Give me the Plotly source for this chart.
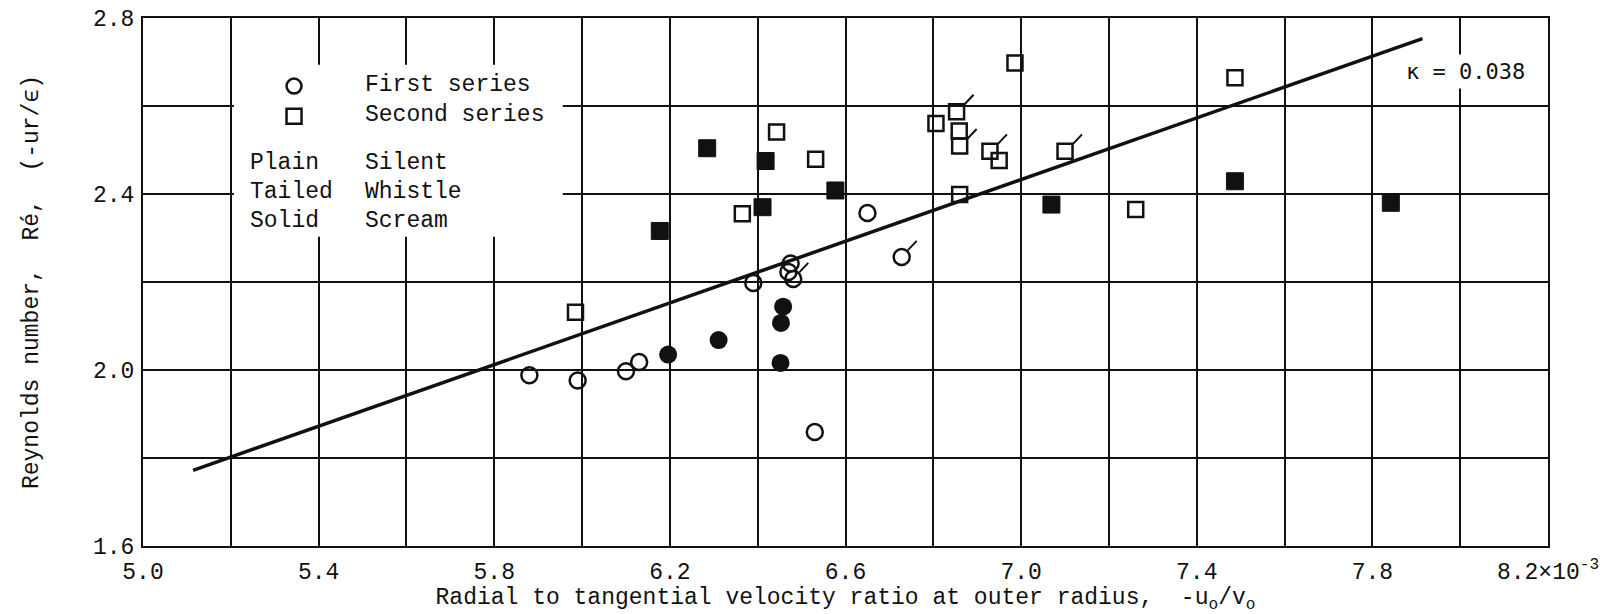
import plotly.graph_objects as go

# Radial-to-tangential velocity ratio (x 10^-3) and Reynolds number Re' (-ur/eps)
# First series (circles)
first_plain_x = [5.88, 5.99, 6.10, 6.13, 6.39, 6.475, 6.47, 6.65, 6.53]
first_plain_y = [1.988, 1.976, 1.997, 2.018, 2.198, 2.242, 2.223, 2.357, 1.859]
first_tailed_x = [6.481, 6.728]
first_tailed_y = [2.207, 2.257]
first_solid_x = [6.196, 6.311, 6.458, 6.453, 6.452]
first_solid_y = [2.035, 2.068, 2.144, 2.107, 2.016]

# Second series (squares)
second_plain_x = [5.985, 6.365, 6.443, 6.532, 6.806, 6.859, 6.950, 6.860, 6.986, 7.487, 7.261]
second_plain_y = [2.131, 2.355, 2.541, 2.479, 2.560, 2.543, 2.476, 2.399, 2.698, 2.664, 2.365]
second_tailed_x = [6.853, 6.860, 6.929, 7.100]
second_tailed_y = [2.587, 2.509, 2.497, 2.497]
second_solid_x = [6.177, 6.285, 6.418, 6.411, 6.577, 7.069, 7.487, 7.842]
second_solid_y = [2.316, 2.504, 2.475, 2.370, 2.408, 2.376, 2.429, 2.380]

# Faired line, kappa = 0.038
fit_x = [5.114, 7.914]
fit_y = [1.772, 2.753]

x_tickvals = [5.0, 5.4, 5.8, 6.2, 6.6, 7.0, 7.4, 7.8, 8.2]
x_ticktext = ["5.0", "5.4", "5.8", "6.2", "6.6", "7.0", "7.4", "7.8", "8.2×10<sup>-3</sup>"]
y_tickvals = [1.6, 2.0, 2.4, 2.8]
y_ticktext = ["1.6", "2.0", "2.4", "2.8"]

X_RANGE = [5.0, 8.2]
Y_RANGE = [1.6, 2.8]

INK = "#111111"
MONO = "Liberation Mono, Courier New, monospace"

W, H = 1623, 614
M_L, M_R, M_T, M_B = 143, 75, 18, 68
# data units per screen pixel, used to size the whistle tails
X_PER_PX = (X_RANGE[1] - X_RANGE[0]) / (W - M_L - M_R)
Y_PER_PX = (Y_RANGE[1] - Y_RANGE[0]) / (H - M_T - M_B)


def tail_path(xs, ys, start_px, end_px):
    """Short up-right strokes leaving each marker edge."""
    tx, ty = [], []
    for x, y in zip(xs, ys):
        tx += [x + start_px[0] * X_PER_PX, x + end_px[0] * X_PER_PX, None]
        ty += [y + start_px[1] * Y_PER_PX, y + end_px[1] * Y_PER_PX, None]
    return tx, ty


fig = go.Figure()

fig.add_trace(go.Scatter(x=fit_x, y=fit_y, mode="lines",
                         line=dict(color=INK, width=3.5), hoverinfo="skip"))

open_circle = dict(symbol="circle-open", size=16, color=INK, line=dict(width=2.5, color=INK))
open_square = dict(symbol="square-open", size=15, color=INK, line=dict(width=2.5, color=INK))

fig.add_trace(go.Scatter(x=first_plain_x, y=first_plain_y, mode="markers", marker=open_circle))
fig.add_trace(go.Scatter(x=first_tailed_x, y=first_tailed_y, mode="markers", marker=open_circle))
fig.add_trace(go.Scatter(x=first_solid_x, y=first_solid_y, mode="markers",
                         marker=dict(symbol="circle", size=18, color=INK, line=dict(width=0))))
fig.add_trace(go.Scatter(x=second_plain_x, y=second_plain_y, mode="markers", marker=open_square))
fig.add_trace(go.Scatter(x=second_tailed_x, y=second_tailed_y, mode="markers", marker=open_square))
fig.add_trace(go.Scatter(x=second_solid_x, y=second_solid_y, mode="markers",
                         marker=dict(symbol="square", size=17, color=INK, line=dict(width=1, color=INK))))

tx, ty = tail_path(first_tailed_x, first_tailed_y, (6, 6.5), (15, 16))
fig.add_trace(go.Scatter(x=tx, y=ty, mode="lines", line=dict(color=INK, width=2),
                         hoverinfo="skip"))
tx, ty = tail_path(second_tailed_x, second_tailed_y, (8, 7.5), (17, 17))
fig.add_trace(go.Scatter(x=tx, y=ty, mode="lines", line=dict(color=INK, width=2),
                         hoverinfo="skip"))

annotations = []
# key block
key_font = dict(family=MONO, size=23, color=INK)
key_rows = [
    (0.1566, 0.873, "First series"),
    (0.1566, 0.816, "Second series"),
    (0.0747, 0.725, "Plain"),
    (0.1566, 0.725, "Silent"),
    (0.0747, 0.670, "Tailed"),
    (0.1566, 0.670, "Whistle"),
    (0.0747, 0.615, "Solid"),
    (0.1566, 0.615, "Scream"),
]
for kx, ky, label in key_rows:
    annotations.append(dict(x=kx, y=ky, xref="paper", yref="paper", text=label,
                            showarrow=False, xanchor="left", yanchor="middle", font=key_font))

annotations.append(dict(x=0.941, y=0.898, xref="paper", yref="paper", text="κ = 0.038",
                        showarrow=False, xanchor="center", yanchor="middle",
                        bgcolor="white", borderpad=4,
                        font=dict(family="DejaVu Sans Mono, monospace", size=22, color=INK)))

shapes = [
    # blank panel behind the key, covering the grid
    dict(type="rect", xref="x", yref="y", x0=5.207, x1=5.956, y0=2.303, y1=2.694,
         fillcolor="white", line=dict(width=0), layer="between"),
    dict(type="circle", xref="paper", yref="paper", xsizemode="pixel", ysizemode="pixel",
         xanchor=0.1075, yanchor=0.871, x0=-7.5, x1=7.5, y0=-7.5, y1=7.5,
         line=dict(color=INK, width=2.5), layer="above"),
    dict(type="rect", xref="paper", yref="paper", xsizemode="pixel", ysizemode="pixel",
         xanchor=0.1075, yanchor=0.814, x0=-7.5, x1=7.5, y0=-7.5, y1=7.5,
         line=dict(color=INK, width=2.5), layer="above"),
]

axis_common = dict(showline=True, linecolor=INK, linewidth=2, mirror=True,
                   showgrid=True, gridcolor=INK, gridwidth=1.6, zeroline=False,
                   ticks="", tickfont=dict(family=MONO, size=23, color=INK))

fig.update_xaxes(range=X_RANGE, tickvals=x_tickvals, ticktext=x_ticktext,
                 minor=dict(dtick=0.2, tick0=5.0, showgrid=True, gridcolor=INK, gridwidth=1.6),
                 ticklabelstandoff=3,
                 title=dict(text="Radial to tangential velocity ratio at outer radius,  -u<sub>o</sub>/v<sub>o</sub>",
                            font=dict(family=MONO, size=23, color=INK), standoff=8),
                 **axis_common)
fig.update_yaxes(range=Y_RANGE, tickvals=y_tickvals, ticktext=y_ticktext,
                 minor=dict(dtick=0.2, tick0=1.6, showgrid=True, gridcolor=INK, gridwidth=1.6),
                 ticklabelstandoff=2,
                 title=dict(text="Reynolds number,  Ré,  (-ur/ϵ)",
                            font=dict(family=MONO, size=23, color=INK), standoff=48),
                 **axis_common)

fig.update_layout(width=W, height=H,
                  margin=dict(l=M_L, r=M_R, t=M_T, b=M_B, autoexpand=False),
                  plot_bgcolor="white", paper_bgcolor="white",
                  showlegend=False, annotations=annotations, shapes=shapes,
                  font=dict(family=MONO, size=23, color=INK))

fig.write_html("out.html")
